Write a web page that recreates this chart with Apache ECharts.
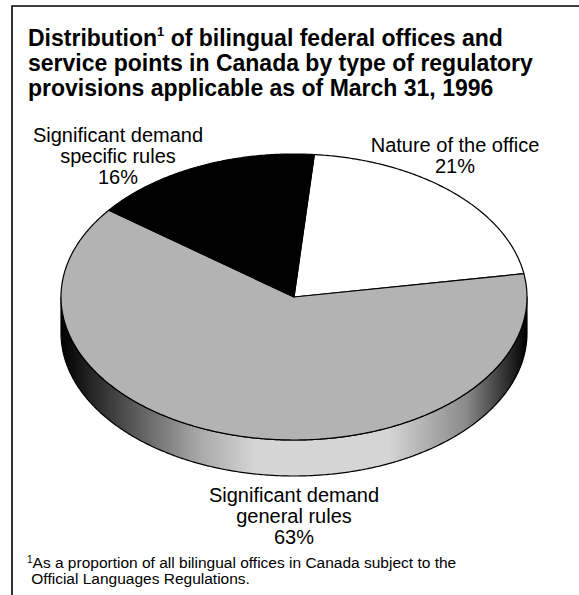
<!DOCTYPE html>
<html><head><meta charset="utf-8">
<script src="https://cdn.jsdelivr.net/npm/echarts@6/dist/echarts.min.js"></script>
<style>html,body{margin:0;padding:0;background:#fff}#c{width:579px;height:595px}</style>
</head><body><div id="c"></div>
<script>
// ---- data ----
const categories = ['Nature of the office', 'Significant demand general rules', 'Significant demand specific rules'];
const labelLines = [['Nature of the office'], ['Significant demand', 'general rules'], ['Significant demand', 'specific rules']];
const values = [21, 63, 16];
const titleLines = ['Distribution', '1', ' of bilingual federal offices and', 'service points in Canada by type of regulatory', 'provisions applicable as of March 31, 1996'];
const footnoteLines = ['1', 'As a proportion of all bilingual offices in Canada subject to the', ' Official Languages Regulations.'];

// ---- styles / layout ----
const sliceColors = ['#ffffff', '#b3b3b3', '#000000'];
const FONT = '"Liberation Sans", Arial, Helvetica, sans-serif';
const CX = 294, CY = 297, RX = 233, RY = 143, DEPTH = 36, START_DEG = -85;
const labelPos = [[455, 134], [294, 484], [118, 124]];

const total = values.reduce((a, b) => a + b, 0);
const sideGradient = {
  type: 'linear', x: CX - RX, y: 0, x2: CX + RX, y2: 0, global: true,
  colorStops: [
    { offset: 0, color: '#000000' },
    { offset: 0.15, color: '#555555' },
    { offset: 0.3, color: '#aaaaaa' },
    { offset: 0.42, color: '#d6d6d6' },
    { offset: 0.7, color: '#d6d6d6' },
    { offset: 0.87, color: '#8a8a8a' },
    { offset: 1, color: '#000000' }
  ]
};

function pt(deg, dy) {
  const r = deg * Math.PI / 180;
  return [CX + RX * Math.cos(r), CY + RY * Math.sin(r) + (dy || 0)];
}

function renderItem(params, api) {
  const i = params.dataIndex;
  let before = 0;
  for (let k = 0; k < i; k++) before += values[k];
  const v = api.value(0);
  const a0 = START_DEG + before / total * 360;
  const a1 = a0 + v / total * 360;
  const children = [];
  for (const off of [-360, 0, 360]) {
    const s = Math.max(a0, off), e = Math.min(a1, off + 180);
    if (e > s) {
      const pts = [];
      for (let d = s; d < e; d += 0.5) pts.push(pt(d));
      pts.push(pt(e));
      for (let d = e; d > s; d -= 0.5) pts.push(pt(d, DEPTH));
      pts.push(pt(s, DEPTH));
      children.push({ type: 'polygon', shape: { points: pts },
        style: { fill: sideGradient, stroke: '#000', lineWidth: 1.2, lineJoin: 'round' } });
    }
  }
  const tp = [[CX, CY]];
  for (let d = a0; d < a1; d += 0.5) tp.push(pt(d));
  tp.push(pt(a1));
  children.push({ type: 'polygon', shape: { points: tp },
    style: { fill: sliceColors[i], stroke: '#000', lineWidth: 1.2, lineJoin: 'round' } });
  return { type: 'group', children };
}

const titles = [];
titles.push({
  text: '{b|' + titleLines[0] + '}{s|' + titleLines[1] + '}{b|' + titleLines[2] + '}\n{b|' + titleLines[3] + '}\n{b|' + titleLines[4] + '}',
  left: 28, top: 25, padding: 0,
  textStyle: {
    rich: {
      b: { fontFamily: FONT, fontWeight: 'bold', fontSize: 23, lineHeight: 25, color: '#000' },
      s: { fontFamily: FONT, fontWeight: 'bold', fontSize: 13, lineHeight: 25, color: '#000', verticalAlign: 'top' }
    }
  }
});
labelLines.forEach((lines, i) => {
  titles.push({
    text: lines.concat([values[i] + '%']).join('\n'),
    left: labelPos[i][0], top: labelPos[i][1], textAlign: 'center', padding: 0,
    textStyle: { fontFamily: FONT, fontWeight: 'normal', fontSize: 20, lineHeight: 21, color: '#000' }
  });
});
titles.push({
  text: '{s|' + footnoteLines[0] + '}{n|' + footnoteLines[1] + '}\n{n|' + footnoteLines[2] + '}',
  left: 27, top: 554, padding: 0,
  textStyle: {
    fontWeight: 'normal',
    rich: {
      n: { fontFamily: FONT, fontWeight: 'normal', fontSize: 15.5, lineHeight: 16.5, color: '#000' },
      s: { fontFamily: FONT, fontWeight: 'normal', fontSize: 10, lineHeight: 16.5, color: '#000', verticalAlign: 'top' }
    }
  }
});

const chart = echarts.init(document.getElementById('c'), null, { renderer: 'svg' });
chart.setOption({
  animation: false,
  backgroundColor: '#ffffff',
  title: titles,
  graphic: [{
    type: 'rect', shape: { x: 12, y: 6, width: 700, height: 700 },
    style: { fill: 'none', stroke: '#000', lineWidth: 1.6 }, z: 100
  }],
  series: [{
    type: 'custom',
    coordinateSystem: 'none',
    data: values.map((v, i) => ({ name: categories[i], value: [v] })),
    renderItem: renderItem
  }]
});
</script>
</body></html>
